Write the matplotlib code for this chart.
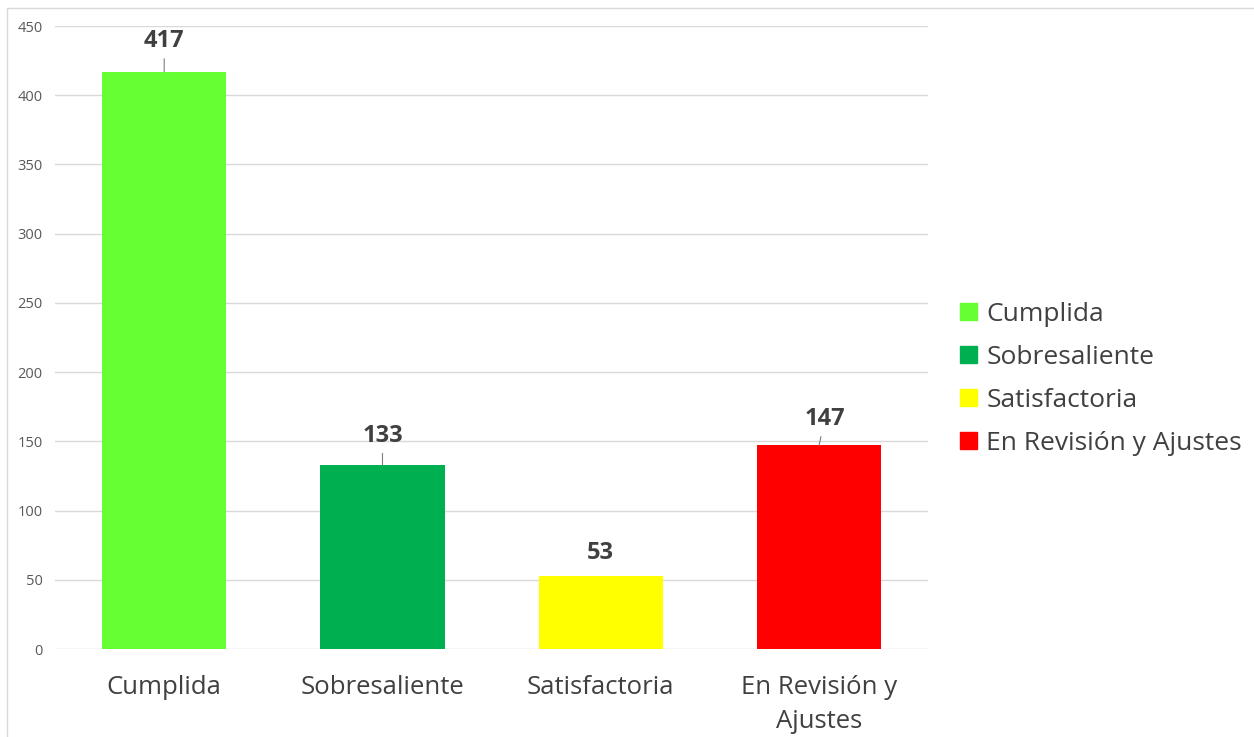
import matplotlib
matplotlib.use("Agg")
from matplotlib import pyplot as plt
from matplotlib.patches import Rectangle

categories = ['Cumplida', 'Sobresaliente', 'Satisfactoria', 'En Revisión y Ajustes']
tick_labels = ['Cumplida', 'Sobresaliente', 'Satisfactoria', 'En Revisión y\nAjustes']
values = [417, 133, 53, 147]
colors = ['#66FF33', '#00B050', '#FFFF00', '#FF0000']
yticks = [0, 50, 100, 150, 200, 250, 300, 350, 400, 450]

plt.rcParams['font.family'] = ['Open Sans', 'DejaVu Sans']

fig = plt.figure(figsize=(12.54, 7.37), dpi=100)
ax = fig.add_axes([0.0439, 0.1194, 0.6963, 0.8453])

x = list(range(len(values)))
bars = ax.bar(x, values, width=0.57, color=colors, zorder=2)

ax.set_xlim(-0.5, len(values) - 0.5)
ax.set_ylim(0, 450)
ax.set_yticks(yticks)
ax.set_yticklabels([str(t) for t in yticks], fontsize=10.5, color='#595959')
ax.yaxis.grid(True, color='#D9D9D9', linewidth=1, zorder=0)
ax.set_xticks(x)
ax.set_xticklabels(tick_labels, fontsize=18.5, color='#404040', linespacing=1.45)
ax.tick_params(axis='both', length=0)
ax.tick_params(axis='x', pad=19)
ax.tick_params(axis='y', pad=9)
for s in ax.spines.values():
    s.set_visible(False)

# data labels, offsets in points (x, y) and whether a leader line is drawn
offsets = [(0, 22), (0, 21), (0, 16.5), (4, 19)]
leaders = [True, True, False, True]
for i, v in enumerate(values):
    dx, dy = offsets[i]
    props = dict(arrowstyle='-', color='#7F7F7F', lw=0.8, shrinkA=2, shrinkB=0) if leaders[i] else None
    ax.annotate(str(v), xy=(i, v), xytext=(dx, dy), textcoords='offset points',
                ha='center', va='center', fontsize=17, fontweight='bold',
                color='#404040', arrowprops=props)

handles = [Rectangle((0, 0), 1, 1, color=c) for c in colors]
fig.legend(handles, categories, loc='center left', bbox_to_anchor=(0.7656, 0.486),
           frameon=False, fontsize=19, labelcolor='#404040', handlelength=0.65,
           handleheight=0.65, handletextpad=0.35, labelspacing=0.68,
           borderpad=0, borderaxespad=0)

# chart border
fig.patches.append(Rectangle((7 / 1254, -0.01), 1.0, 1 - 8 / 737 + 0.01,
                             transform=fig.transFigure, fill=False,
                             edgecolor='#D9D9D9', linewidth=1))

plt.savefig('out.png', dpi=100)
